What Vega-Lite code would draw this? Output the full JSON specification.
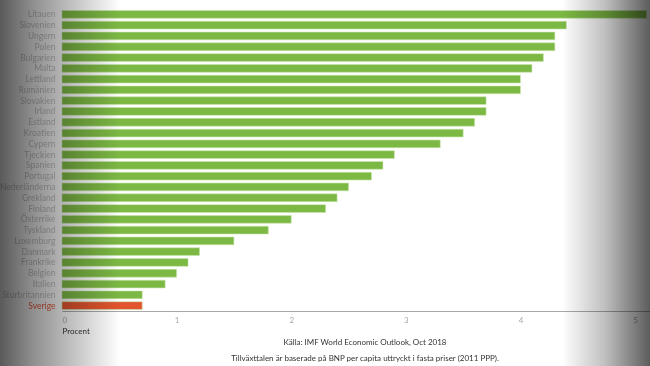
{
  "$schema": "https://vega.github.io/schema/vega-lite/v6.json",
  "autosize": "none",
  "width": 588,
  "height": 302,
  "padding": {"left": 62, "top": 9, "right": 0, "bottom": 55},
  "background": "#ffffff",
  "title": {
    "text": ["Källa: IMF World Economic Outlook, Oct 2018", "Tillväxttalen är baserade på BNP per capita uttryckt i fasta priser (2011 PPP)."],
    "orient": "bottom",
    "anchor": "middle",
    "font": "Lato",
    "fontSize": 8,
    "fontWeight": "normal",
    "color": "#333333",
    "lineHeight": 16,
    "offset": 3,
    "dx": 9,
    "dy": -30
  },
  "resolve": {"scale": {"y": "independent"}, "axis": {"y": "independent"}},
  "layer": [
    {
      "data": {"values": [
        {"land": "Litauen", "tillvaxt": 5.1},
        {"land": "Slovenien", "tillvaxt": 4.4},
        {"land": "Ungern", "tillvaxt": 4.3},
        {"land": "Polen", "tillvaxt": 4.3},
        {"land": "Bulgarien", "tillvaxt": 4.2},
        {"land": "Malta", "tillvaxt": 4.1},
        {"land": "Lettland", "tillvaxt": 4.0},
        {"land": "Rumänien", "tillvaxt": 4.0},
        {"land": "Slovakien", "tillvaxt": 3.7},
        {"land": "Irland", "tillvaxt": 3.7},
        {"land": "Estland", "tillvaxt": 3.6},
        {"land": "Kroatien", "tillvaxt": 3.5},
        {"land": "Cypern", "tillvaxt": 3.3},
        {"land": "Tjeckien", "tillvaxt": 2.9},
        {"land": "Spanien", "tillvaxt": 2.8},
        {"land": "Portugal", "tillvaxt": 2.7},
        {"land": "Nederländerna", "tillvaxt": 2.5},
        {"land": "Grekland", "tillvaxt": 2.4},
        {"land": "Finland", "tillvaxt": 2.3},
        {"land": "Österrike", "tillvaxt": 2.0},
        {"land": "Tyskland", "tillvaxt": 1.8},
        {"land": "Luxemburg", "tillvaxt": 1.5},
        {"land": "Danmark", "tillvaxt": 1.2},
        {"land": "Frankrike", "tillvaxt": 1.1},
        {"land": "Belgien", "tillvaxt": 1.0},
        {"land": "Italien", "tillvaxt": 0.9},
        {"land": "Storbritannien", "tillvaxt": 0.7},
        {"land": "Sverige", "tillvaxt": 0.7}
      ]},
      "mark": {"type": "bar", "stroke": "#c9e6ad", "strokeWidth": 0.6},
      "encoding": {
        "y": {
          "field": "land", "type": "nominal", "sort": null,
          "scale": {"paddingInner": 0.28, "paddingOuter": 0.14},
          "axis": {
            "title": null, "domain": false, "ticks": false, "labelPadding": 7,
            "labelFont": "Lato", "labelFontSize": 8.5,
            "labelColor": {"expr": "datum.value === 'Sverige' ? '#ee5a3a' : '#c4c4c4'"}
          }
        },
        "x": {
          "field": "tillvaxt", "type": "quantitative",
          "scale": {"domain": [0, 5.13], "nice": false},
          "axis": {
            "title": "Procent", "values": [0, 1, 2, 3, 4, 5], "format": "d",
            "grid": false, "ticks": false, "domain": true, "domainColor": "#a8a8a8",
            "labelFont": "Lato", "labelFontSize": 8, "labelColor": "#a8a8a8", "labelPadding": 5,
            "titleFont": "Lato", "titleFontSize": 8, "titleFontWeight": "normal", "titleColor": "#333333",
            "titleAnchor": "start", "titleAlign": "left", "titlePadding": 3
          }
        },
        "color": {
          "condition": {"test": "datum.land === 'Sverige'", "value": "#e2542e"},
          "value": "#7cb844"
        }
      }
    },
    {
      "data": {"values": [{"fran": -0.541, "till": 5.13, "ned": -0.1821, "upp": 1.0298}]},
      "mark": {
        "type": "rect", "blend": "multiply", "clip": false,
        "color": {
          "gradient": "linear", "x1": 0, "y1": 0, "x2": 1, "y2": 0,
          "stops": [
            {"offset": 0, "color": "#5a5a5a"},
            {"offset": 0.05, "color": "#8e8e8e"},
            {"offset": 0.1, "color": "#b8b8b8"},
            {"offset": 0.185, "color": "#ffffff"},
            {"offset": 0.865, "color": "#ffffff"},
            {"offset": 0.93, "color": "#c0c0c0"},
            {"offset": 1, "color": "#5c5c5c"}
          ]
        }
      },
      "encoding": {
        "x": {"field": "fran", "type": "quantitative"},
        "x2": {"field": "till"},
        "y": {"field": "ned", "type": "quantitative", "scale": {"domain": [0, 1], "nice": false, "zero": false}, "axis": null},
        "y2": {"field": "upp"}
      }
    }
  ],
  "config": {"view": {"stroke": null}}
}
